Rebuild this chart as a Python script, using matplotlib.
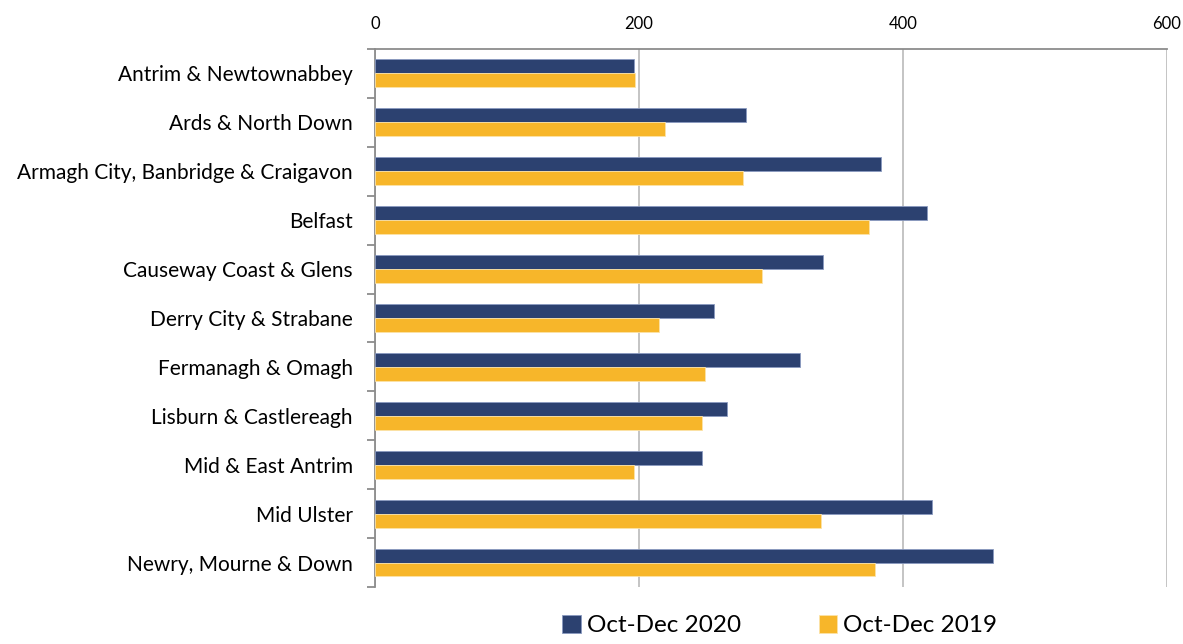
import numpy as np
import matplotlib.pyplot as plt
from matplotlib.ticker import FixedLocator

councils = [
    "Antrim & Newtownabbey",
    "Ards & North Down",
    "Armagh City, Banbridge & Craigavon",
    "Belfast",
    "Causeway Coast & Glens",
    "Derry City & Strabane",
    "Fermanagh & Omagh",
    "Lisburn & Castlereagh",
    "Mid & East Antrim",
    "Mid Ulster",
    "Newry, Mourne & Down",
]
oct_dec_2020 = [196, 281, 383, 418, 339, 257, 322, 267, 248, 422, 468]
oct_dec_2019 = [197, 220, 279, 374, 293, 215, 250, 248, 196, 338, 379]

navy = "#2C4170"
gold = "#F7B62A"

plt.rcParams['font.family'] = ['Lato', 'DejaVu Sans']

fig = plt.figure(figsize=(11.83, 6.44), dpi=100)
ax = fig.add_axes([0.317, 0.0885, 0.6695, 0.8355])

y = np.arange(len(councils))
h = 0.285
ax.barh(y - h / 2, oct_dec_2020, height=h, color=navy, edgecolor="#8A9AC0",
        linewidth=0.6, label="Oct-Dec 2020", zorder=3)
ax.barh(y + h / 2, oct_dec_2019, height=h, color=gold, edgecolor="#FCE3A8",
        linewidth=0.6, label="Oct-Dec 2019", zorder=3)

ax.set_xlim(0, 600)
ax.set_ylim(len(councils) - 0.5, -0.5)
ax.set_xticks([0, 200, 400, 600])
ax.xaxis.tick_top()
ax.tick_params(axis='x', length=0, labelsize=12, pad=12, colors='black')
ax.xaxis.grid(True, color='#BFBFBF', linewidth=1.3, zorder=0)

ax.set_yticks(y)
ax.set_yticklabels(councils, fontsize=15)
ax.yaxis.set_minor_locator(FixedLocator(np.arange(-0.5, len(councils), 1)))
ax.tick_params(axis='y', which='major', length=0, pad=16)
ax.tick_params(axis='y', which='minor', length=6, color='#8C8C8C', width=1.3)

for s in ['right', 'bottom']:
    ax.spines[s].set_visible(False)
ax.spines['left'].set_color('#8C8C8C')
ax.spines['left'].set_linewidth(1.3)
ax.spines['top'].set_color('#8C8C8C')
ax.spines['top'].set_linewidth(1.3)

fig.legend(loc='lower center', bbox_to_anchor=(0.659, -0.022), ncol=2, frameon=False,
           fontsize=17.5, handlelength=0.75, handleheight=0.75, handletextpad=0.25,
           columnspacing=3.2)

fig.savefig("out.png", dpi=100)
